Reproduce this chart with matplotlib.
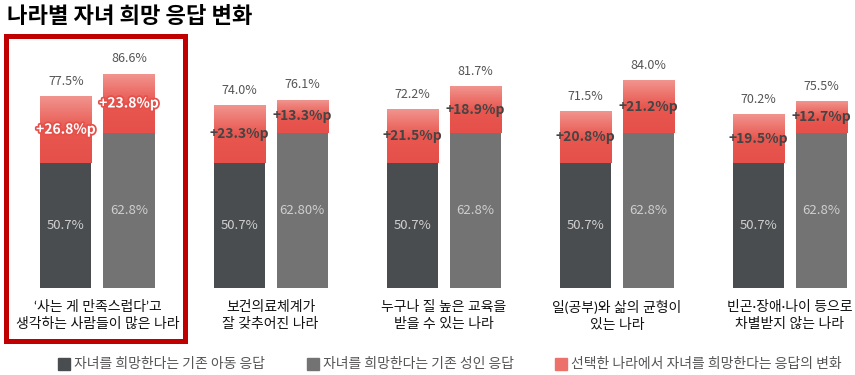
import numpy as np
import matplotlib
matplotlib.use("Agg")
import matplotlib.pyplot as plt
import matplotlib.patches as patches
import matplotlib.patheffects as pe
from matplotlib.colors import LinearSegmentedColormap

plt.rcParams['font.family'] = ['Noto Sans CJK KR', 'DejaVu Sans']

# 데이터
categories = ["‘사는 게 만족스럽다’고\n생각하는 사람들이 많은 나라",
              "보건의료체계가\n잘 갖추어진 나라",
              "누구나 질 높은 교육을\n받을 수 있는 나라",
              "일(공부)와 삶의 균형이\n있는 나라",
              "빈곤·장애·나이 등으로\n차별받지 않는 나라"]
child_base = [50.7, 50.7, 50.7, 50.7, 50.7]
child_change = [26.8, 23.3, 21.5, 20.8, 19.5]
adult_base = [62.8, 62.8, 62.8, 62.8, 62.8]
adult_change = [23.8, 13.3, 18.9, 21.2, 12.7]
child_base_labels = ["50.7%", "50.7%", "50.7%", "50.7%", "50.7%"]
adult_base_labels = ["62.8%", "62.80%", "62.8%", "62.8%", "62.8%"]
legend_labels = ["자녀를 희망한다는 기존 아동 응답",
                 "자녀를 희망한다는 기존 성인 응답",
                 "선택한 나라에서 자녀를 희망한다는 응답의 변화"]

dark = "#4a4d50"
gray = "#737373"
red_cmap = LinearSegmentedColormap.from_list("r", ["#e5504a", "#e8574f", "#f1948e"])

fig = plt.figure(figsize=(8.55, 3.75), dpi=100)
ax = fig.add_axes([0, 0.232, 1, 0.6587])

x = np.arange(len(categories))
w = 0.295
off = 0.182
grad = np.linspace(0, 1, 100).reshape(-1, 1)

for i in x:
    for xc, base, chg, col, blab in [(i - off, child_base[i], child_change[i], dark, child_base_labels[i]),
                                     (i + off, adult_base[i], adult_change[i], gray, adult_base_labels[i])]:
        ax.bar(xc, base, width=w, color=col, edgecolor="none")
        top = base + chg
        ax.imshow(grad, extent=[xc - w / 2, xc + w / 2, base, top], origin="lower",
                  cmap=red_cmap, aspect="auto", zorder=2)
        ax.text(xc, base / 2, blab, ha="center", va="center", color="#cfcfcf", fontsize=9.5)
        ax.text(xc, top + 3.5, f"{top:.1f}%", ha="center", va="bottom", color="#555555", fontsize=9)
        if i == 0:
            ax.text(xc, base + chg / 2, f"+{chg:.1f}%p", ha="center", va="center", color="white",
                    fontsize=10, fontweight="bold", zorder=3,
                    path_effects=[pe.withStroke(linewidth=2.5, foreground="#e5504a")])
        else:
            ax.text(xc, base + chg / 2, f"+{chg:.1f}%p", ha="center", va="center", color="#444444",
                    fontsize=10, fontweight="bold", zorder=3)
    ax.text(i, -5.0, categories[i], ha="center", va="top", fontsize=10, color="#111111",
            linespacing=1.3, family=['Lato', 'Noto Sans CJK KR'])

ax.set_xlim(-0.563, 4.376)
ax.set_ylim(0, 100)
ax.axis("off")

fig.text(0.008, 0.955, "나라별 자녀 희망 응답 변화", fontsize=16, fontweight="bold",
         va="center", ha="left")

# 강조 박스
fig.patches.append(patches.Rectangle((5.5 / 855, 1 - 341 / 375), 179 / 855, 305.5 / 375,
                                     transform=fig.transFigure, fill=False,
                                     edgecolor="#c00000", linewidth=3.6))

# 범례
for sx, col, lab in zip([58, 307, 555], [dark, gray, "#ec716b"], legend_labels):
    fig.patches.append(patches.Rectangle((sx / 855, 1 - 370 / 375), 12 / 855, 12 / 375,
                                         transform=fig.transFigure, color=col))
    fig.text((sx + 16) / 855, 1 - 364 / 375, lab, fontsize=10, color="#555555",
             va="center", ha="left")

fig.savefig("out.png", dpi=100)
